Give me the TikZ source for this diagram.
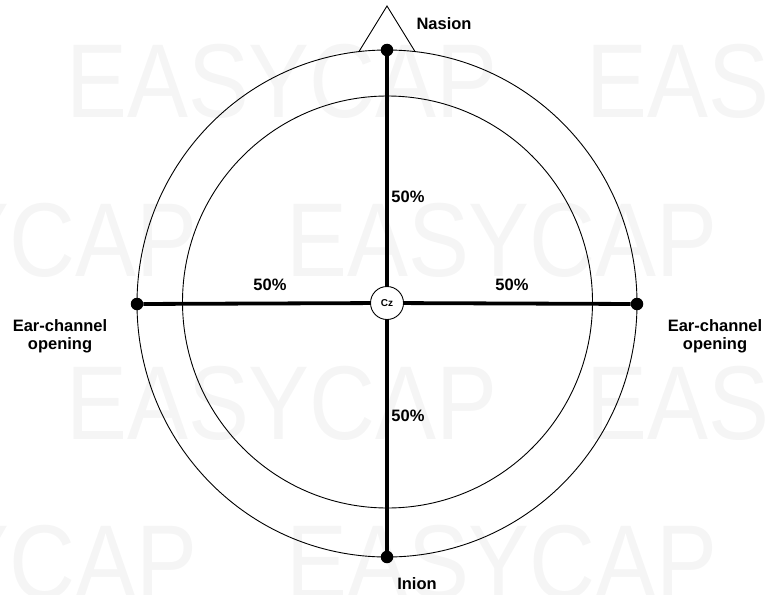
\documentclass[tikz,border=0pt]{standalone}
\usepackage{fontspec}
\setmainfont{Liberation Sans}
\begin{document}
\begin{tikzpicture}[x=1pt,y=-1pt,
  lab/.style={font=\bfseries\fontsize{16.5}{18}\selectfont, inner sep=0pt, align=center},
  ring/.style={draw=black, line width=0.9pt},
  axisline/.style={draw=black, line width=3.8pt},
  dotnode/.style={circle, fill=black, minimum size=12.5pt, inner sep=0pt},
  wm/.style={text=black!4, font=\fontsize{105}{105}\selectfont, anchor=base west, inner sep=0pt, xscale=0.87}]
\useasboundingbox (0,0) rectangle (765,594);
% watermark
\begin{scope}
\clip (0,0) rectangle (765,594);
\node[wm] (w1) at (66,117) {EASYCAP};
\node[wm] (w2) at (586,117) {EASYCAP};
\node[wm] (w3) at (-234,276) {EASYCAP};
\node[wm] (w4) at (286,276) {EASYCAP};
\node[wm] (w5) at (66,439) {EASYCAP};
\node[wm] (w6) at (586,439) {EASYCAP};
\node[wm] (w7) at (-234,598) {EASYCAP};
\node[wm] (w8) at (286,598) {EASYCAP};
\node[wm] (w9) at (806,598) {EASYCAP};
\end{scope}
% head outlines
\draw[ring] (387,303.5) ellipse [x radius=250, y radius=253.5];
\draw[ring] (387.5,302) ellipse [x radius=205, y radius=206];
% nose
\coordinate (noseL) at (359,51.5);
\coordinate (apex) at (387,6);
\coordinate (noseR) at (415,51.5);
\draw[ring] (noseL) -- (apex) -- (noseR);
% points
\node[dotnode] (nas) at (387,50) {};
\node[dotnode] (ini) at (387,557) {};
\node[dotnode] (earL) at (137,304) {};
\node[dotnode] (earR) at (637,304) {};
\node[circle, draw=black, fill=white, minimum size=33pt, inner sep=0pt, line width=0.9pt,
      font=\bfseries\fontsize{10}{10}\selectfont] (cz) at (387,303) {Cz};
\draw[axisline] (nas) -- (cz);
\draw[axisline] (cz) -- (ini);
\draw[axisline] (earL) -- (cz);
\draw[axisline] (cz) -- (earR);
% labels
\node[lab] (lnas) at (444,24) {Nasion};
\node[lab] (lini) at (417,584) {Inion};
\node[lab] (lear1) at (60,336) {Ear-channel\\opening};
\node[lab] (lear2) at (715,336) {Ear-channel\\opening};
\node[lab] (p1) at (408,197) {50\%};
\node[lab] (p2) at (270,285) {50\%};
\node[lab] (p3) at (512,285) {50\%};
\node[lab] (p4) at (408,416) {50\%};
\end{tikzpicture}
\end{document}
